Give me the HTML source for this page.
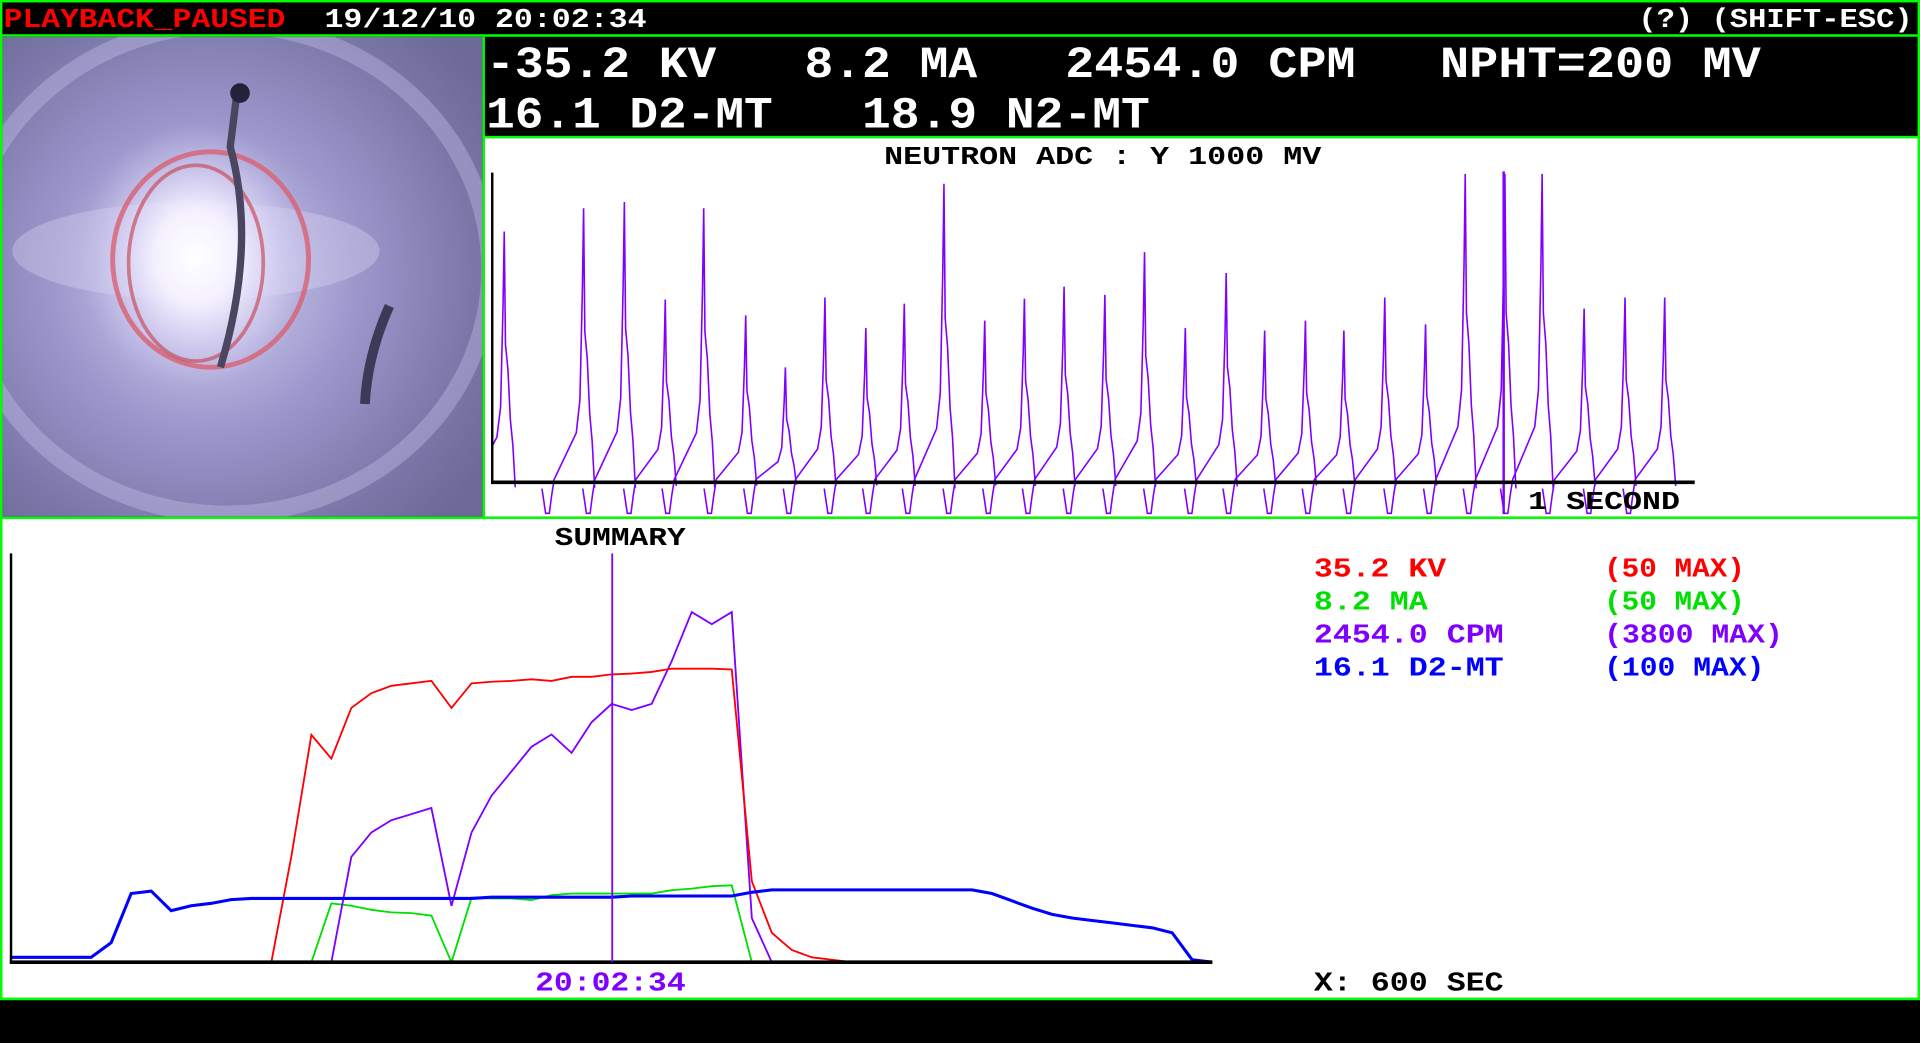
<!DOCTYPE html>
<html><head><meta charset="utf-8"><style>
html,body{margin:0;padding:0;background:#000;overflow:hidden}
svg{display:block}
text{font-family:"Liberation Mono",monospace;font-weight:bold}
</style></head><body>
<svg id="s" width="1920" height="1043" viewBox="0 0 1568 852" preserveAspectRatio="none">
<defs>
<radialGradient id="bg" cx="0.42" cy="0.5" r="0.7">
<stop offset="0" stop-color="#d8d4f4"/><stop offset="0.45" stop-color="#9c98cc"/><stop offset="0.8" stop-color="#7b77a8"/><stop offset="1" stop-color="#6d6a98"/></radialGradient>
<radialGradient id="glow" cx="0.5" cy="0.5" r="0.5">
<stop offset="0" stop-color="#fff"/><stop offset="0.35" stop-color="#f4f0ff"/><stop offset="1" stop-color="#c8c2f0" stop-opacity="0"/></radialGradient>
<clipPath id="photoClip"><rect x="2" y="30" width="392" height="392"/></clipPath>
<clipPath id="nClip"><rect x="402" y="113" width="1164" height="309"/></clipPath>
</defs>
<rect x="0" y="0" width="1568" height="852" fill="#000"/>
<rect x="1" y="1" width="1566" height="815" fill="none" stroke="#00ff00" stroke-width="2"/>
<text x="3" y="22" font-size="22" fill="#ff0000" textLength="230" lengthAdjust="spacingAndGlyphs">PLAYBACK_PAUSED</text>
<text x="265" y="22" font-size="22" fill="#fff" textLength="263" lengthAdjust="spacingAndGlyphs">19/12/10 20:02:34</text>
<text x="1338" y="22" font-size="22" fill="#fff" textLength="224" lengthAdjust="spacingAndGlyphs">(?) (SHIFT-ESC)</text>
<line x1="0" y1="29" x2="1568" y2="29" stroke="#00ff00" stroke-width="2"/>
<g clip-path="url(#photoClip)">
<rect x="2" y="30" width="392" height="392" fill="url(#bg)"/>
<ellipse cx="185" cy="220" rx="215" ry="200" fill="none" stroke="#cfc9f2" stroke-width="14" opacity="0.35"/>
<ellipse cx="160" cy="205" rx="150" ry="40" fill="#e8e4ff" opacity="0.3"/>
<ellipse cx="160" cy="210" rx="95" ry="110" fill="url(#glow)"/>
<ellipse cx="172" cy="212" rx="80" ry="88" fill="none" stroke="#d86070" stroke-width="4" opacity="0.8"/>
<ellipse cx="160" cy="215" rx="55" ry="80" fill="none" stroke="#c85060" stroke-width="3" opacity="0.7"/>
<path d="M193 80 L188 120 Q210 200 180 300" fill="none" stroke="#4a4660" stroke-width="6"/>
<circle cx="196" cy="76" r="8" fill="#22223a"/>
<path d="M318 250 Q300 290 298 330" stroke="#3d3a58" stroke-width="8" fill="none"/>
</g>
<line x1="395" y1="30" x2="395" y2="423" stroke="#00ff00" stroke-width="2"/>
<g fill="#fff" font-size="36">
<text x="397" y="63" textLength="188" lengthAdjust="spacingAndGlyphs">-35.2 KV</text>
<text x="657" y="63" textLength="141" lengthAdjust="spacingAndGlyphs">8.2 MA</text>
<text x="870" y="63" textLength="237" lengthAdjust="spacingAndGlyphs">2454.0 CPM</text>
<text x="1176" y="63" textLength="262" lengthAdjust="spacingAndGlyphs">NPHT=200 MV</text>
<text x="397" y="104" textLength="234" lengthAdjust="spacingAndGlyphs">16.1 D2-MT</text>
<text x="704" y="104" textLength="235" lengthAdjust="spacingAndGlyphs">18.9 N2-MT</text>
</g>
<line x1="395" y1="112" x2="1568" y2="112" stroke="#00ff00" stroke-width="2"/>
<rect x="396" y="113" width="1170" height="309" fill="#fff"/>
<text x="722" y="134" font-size="21" fill="#000" textLength="357" lengthAdjust="spacingAndGlyphs">NEUTRON ADC : Y 1000 MV</text>
<g id="nplot" clip-path="url(#nClip)"></g>
<line x1="402" y1="141" x2="402" y2="395" stroke="#000" stroke-width="2"/>
<line x1="401" y1="394" x2="1384" y2="394" stroke="#000" stroke-width="3"/>
<text x="1248" y="416" font-size="21" fill="#000" textLength="124" lengthAdjust="spacingAndGlyphs">1 SECOND</text>
<line x1="0" y1="423" x2="1568" y2="423" stroke="#00ff00" stroke-width="2"/>
<rect x="2" y="424" width="1564" height="391" fill="#fff"/>
<text x="453" y="445" font-size="21" fill="#000" textLength="107" lengthAdjust="spacingAndGlyphs">SUMMARY</text>
<g id="splot"></g>
<line x1="9" y1="452" x2="9" y2="787" stroke="#000" stroke-width="2"/>
<line x1="8" y1="786" x2="990" y2="786" stroke="#000" stroke-width="3"/>
<line x1="500" y1="452" x2="500" y2="786" stroke="#8000ff" stroke-width="1.5"/>
<text x="437" y="809" font-size="22" fill="#8000ff" textLength="123" lengthAdjust="spacingAndGlyphs">20:02:34</text>
<g font-size="22">
<text x="1073" y="471" fill="#ff0000" textLength="108" lengthAdjust="spacingAndGlyphs">35.2 KV</text>
<text x="1310" y="471" fill="#ff0000" textLength="115" lengthAdjust="spacingAndGlyphs">(50 MAX)</text>
<text x="1073" y="498" fill="#00e000" textLength="93" lengthAdjust="spacingAndGlyphs">8.2 MA</text>
<text x="1310" y="498" fill="#00e000" textLength="115" lengthAdjust="spacingAndGlyphs">(50 MAX)</text>
<text x="1073" y="525" fill="#8000ff" textLength="155" lengthAdjust="spacingAndGlyphs">2454.0 CPM</text>
<text x="1310" y="525" fill="#8000ff" textLength="146" lengthAdjust="spacingAndGlyphs">(3800 MAX)</text>
<text x="1073" y="552" fill="#0000ff" textLength="155" lengthAdjust="spacingAndGlyphs">16.1 D2-MT</text>
<text x="1310" y="552" fill="#0000ff" textLength="131" lengthAdjust="spacingAndGlyphs">(100 MAX)</text>
</g>
<text x="1073" y="809" font-size="22" fill="#000" textLength="155" lengthAdjust="spacingAndGlyphs">X: 600 SEC</text>
<line x1="0" y1="816" x2="1568" y2="816" stroke="#00ff00" stroke-width="2"/>
</svg>
<script>
// Neutron ADC pulses: time (s) and peak (mV)
const pulseTimes=[0.010,0.076,0.110,0.144,0.176,0.211,0.244,0.277,0.311,0.343,0.376,0.410,0.443,0.476,0.510,0.543,0.577,0.611,0.643,0.677,0.709,0.743,0.777,0.810,0.843,0.874,0.909,0.943,0.976];
const pulsePeaks=[810,885,905,590,885,539,371,597,498,577,964,522,593,632,605,743,498,676,490,522,490,597,510,996,996,996,561,597,597];
// Summary series sampled every 10 s over 600 s
const sumTimes=[];for(let t=0;t<=600;t+=10)sumTimes.push(t);
const kvValues=[0,0,0,0,0,0,0,0,0,0,0,0,0,0,12.9,27.8,24.9,31.1,32.9,33.8,34.1,34.4,31.1,34.1,34.3,34.4,34.6,34.4,34.9,34.9,35.2,35.3,35.5,35.9,35.9,35.9,35.8,9.9,3.6,1.5,0.6,0.3,0,0,0,0,0,0,0,0,0,0,0,0,0,0,0,0,0,0,0];
const cpmValues=[0,0,0,0,0,0,0,0,0,0,0,0,0,0,0,0,0,979,1206,1320,1377,1434,523,1206,1547,1775,2002,2116,1946,2230,2401,2344,2401,2799,3254,3141,3254,410,0,0,0,0,0,0,0,0,0,0,0,0,0,0,0,0,0,0,0,0,0,0,0];
const maValues=[0,0,0,0,0,0,0,0,0,0,0,0,0,0,0,0,7.2,6.9,6.4,6.1,6.0,5.7,0,7.9,7.8,7.8,7.6,8.2,8.4,8.4,8.4,8.4,8.4,8.8,9.0,9.3,9.4,0,0,0,0,0,0,0,0,0,0,0,0,0,0,0,0,0,0,0,0,0,0,0,0];
const d2Values=[1.2,1.2,1.2,1.2,1.2,4.8,16.8,17.4,12.6,13.8,14.4,15.3,15.6,15.6,15.6,15.6,15.6,15.6,15.6,15.6,15.6,15.6,15.6,15.6,15.9,15.9,15.9,15.9,15.9,15.9,15.9,16.2,16.2,16.2,16.2,16.2,16.2,17.1,17.7,17.7,17.7,17.7,17.7,17.7,17.7,17.7,17.7,17.7,17.7,16.8,15.0,13.2,11.7,10.8,10.2,9.6,9.0,8.4,7.2,0.6,0];

const NS="http://www.w3.org/2000/svg";
const nx=t=>402+t*981, ny=v=>394-v/1000*253;
const sx=t=>9+t/600*981;
function sy(v,max){return 786-v/max*334;}

const np=document.getElementById('nplot');
pulseTimes.forEach((t,i)=>{
  const h=pulsePeaks[i], x=nx(t);
  const pts=[[x-34,-20],[x-31,-100],[x-28,-100],[x-26,-40],[x-24,10],[x-6,0.18*h],[x-3,0.3*h],[x-1,0.7*h],[x,h],[x+1,0.55*h],[x+3,0.45*h],[x+5,0.25*h],[x+7,0.15*h],[x+9,-0.02*h]];
  const pl=document.createElementNS(NS,'polyline');
  pl.setAttribute('points',pts.map(p=>p[0].toFixed(1)+','+ny(p[1]).toFixed(1)).join(' '));
  pl.setAttribute('fill','none');pl.setAttribute('stroke','#8000ff');pl.setAttribute('stroke-width','1.3');
  
  
  np.appendChild(pl);
});
const mk=document.createElementNS(NS,'line');
mk.setAttribute('x1',1228);mk.setAttribute('x2',1228);mk.setAttribute('y1',140);mk.setAttribute('y2',420);
mk.setAttribute('stroke','#8000ff');mk.setAttribute('stroke-width','2');


np.appendChild(mk);

const sp=document.getElementById('splot');
function series(vals,max,color,w,name){
  const pl=document.createElementNS(NS,'polyline');
  pl.setAttribute('points',vals.map((v,i)=>sx(sumTimes[i]).toFixed(1)+','+sy(v,max).toFixed(1)).join(' '));
  pl.setAttribute('fill','none');pl.setAttribute('stroke',color);pl.setAttribute('stroke-width',w);
  
  
  sp.appendChild(pl);
}
series(maValues,50,'#00e000',1.5,'ma-line');
series(cpmValues,3800,'#8000ff',1.5,'cpm-line');
series(kvValues,50,'#ff0000',1.5,'kv-line');
series(d2Values,100,'#0000ff',2.5,'d2-line');
</script>
</body></html>
